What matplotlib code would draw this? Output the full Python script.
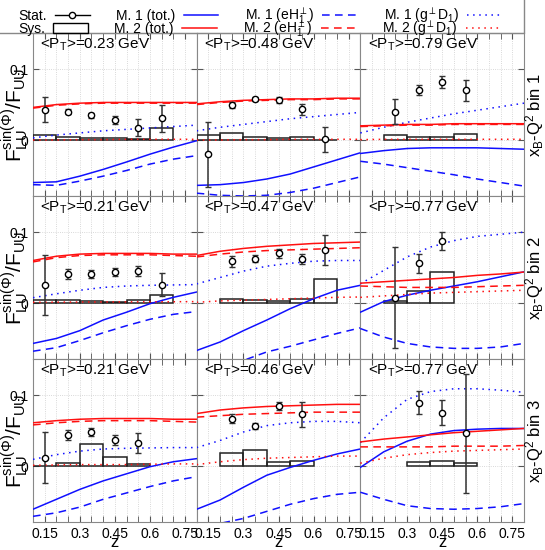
# Beam-spin asymmetry F_LU^sin(phi)/F_UU vs z, 3 x_B-Q^2 bins by 3 <P_T> bins
import matplotlib
matplotlib.use("Agg")
import matplotlib.pyplot as plt
from matplotlib.lines import Line2D
from matplotlib.patches import Rectangle
from matplotlib.ticker import MultipleLocator

plt.rcParams['font.family'] = ['Liberation Sans', 'DejaVu Sans']
plt.rcParams['mathtext.fontset'] = 'custom'
plt.rcParams['mathtext.rm'] = 'Liberation Sans'
plt.rcParams['mathtext.it'] = 'Liberation Sans'
plt.rcParams['mathtext.bf'] = 'Liberation Sans:bold'
plt.rcParams['mathtext.fallback'] = 'stixsans'

# ---- data (rows = x_B-Q^2 bin, cols = <P_T> bin) ----
pt_labels = [["0.23", "0.48", "0.79"],
             ["0.21", "0.47", "0.77"],
             ["0.21", "0.46", "0.77"]]

z_ticks = [0.15, 0.3, 0.45, 0.6, 0.75]
z_tick_labels = ["0.15", "0.3", "0.45", "0.6", "0.75"]

# measured points
stat_z = [[[0.15, 0.25, 0.35, 0.45, 0.55, 0.65], [0.15, 0.25, 0.35, 0.45, 0.55, 0.65], [0.25, 0.35, 0.45, 0.55]],
          [[0.15, 0.25, 0.35, 0.45, 0.55, 0.65], [0.25, 0.35, 0.45, 0.55, 0.65], [0.25, 0.35, 0.45]],
          [[0.15, 0.25, 0.35, 0.45, 0.55], [0.25, 0.35, 0.45, 0.55], [0.35, 0.45, 0.55]]]
stat_y = [[[0.043, 0.040, 0.035, 0.028, 0.0175, 0.031], [-0.020, 0.0495, 0.0575, 0.056, 0.0435, 0.001], [0.040, 0.070, 0.082, 0.070]],
          [[0.0255, 0.041, 0.041, 0.0437, 0.0446, 0.026], [0.0587, 0.0624, 0.070, 0.0615, 0.075], [0.0075, 0.056, 0.087]],
          [[0.012, 0.0434, 0.048, 0.0368, 0.033], [0.067, 0.0566, 0.085, 0.073], [0.0896, 0.0755, 0.046]]]
stat_err = [[[0.018, 0.0035, 0.0035, 0.006, 0.012, 0.019], [0.046, 0.004, 0.003, 0.004, 0.008, 0.0175], [0.0175, 0.007, 0.008, 0.015]],
            [[0.042, 0.007, 0.005, 0.006, 0.007, 0.016], [0.008, 0.005, 0.006, 0.007, 0.021], [0.0715, 0.013, 0.0125]],
            [[0.0365, 0.007, 0.006, 0.007, 0.014], [0.006, 0.004, 0.006, 0.018], [0.016, 0.018, 0.084]]]
sys_h = [[[0.007, 0.0047, 0.0033, 0.0024, 0.002, 0.0165], [0.0075, 0.010, 0.0038, 0.003, 0.0047, 0.0005], [0.0075, 0.0038, 0.0047, 0.0085]],
         [[0.0038, 0.0047, 0.0028, 0.0014, 0.0047, 0.0117], [0.006, 0.0047, 0.0028, 0.006, 0.034], [0.003, 0.017, 0.0437]],
         [[0.0003, 0.0047, 0.0307, 0.0127, 0.0033], [0.018, 0.022, 0.0057, 0.007], [0.006, 0.0066, 0.0047]]]

# model curves, read at z = 0.1 ... 0.8
z_curve = [0.1, 0.2, 0.3, 0.4, 0.5, 0.6, 0.7, 0.8]

m1_tot = [[[-0.060, -0.059, -0.051, -0.0415, -0.031, -0.020, -0.010, -0.001],
           [-0.064, -0.063, -0.060, -0.055, -0.048, -0.038, -0.028, -0.018],
           [-0.019, -0.015, -0.012, -0.011, -0.011, -0.011, -0.012, -0.013]],
          [[-0.057, -0.050, -0.039, -0.024, -0.013, -0.001, 0.008, 0.0155],
           [-0.067, -0.055, -0.039, -0.024, -0.008, 0.006, 0.018, 0.025],
           [-0.013, 0.002, 0.011, 0.018, 0.024, 0.030, 0.037, 0.044]],
          [[-0.061, -0.047, -0.033, -0.021, -0.011, -0.001, 0.006, 0.0104],
           [-0.061, -0.048, -0.030, -0.013, -0.002, 0.008, 0.017, 0.024],
           [-0.002, 0.020, 0.035, 0.045, 0.050, 0.052, 0.053, 0.053]]]
m1_eh = [[[-0.063, -0.064, -0.058, -0.051, -0.043, -0.034, -0.027, -0.022],
          [-0.075, -0.078, -0.079, -0.078, -0.074, -0.068, -0.060, -0.052],
          [-0.030, -0.034, -0.039, -0.044, -0.049, -0.055, -0.060, -0.065]],
         [[-0.068, -0.063, -0.053, -0.042, -0.032, -0.023, -0.016, -0.012],
          [-0.100, -0.090, -0.081, -0.069, -0.061, -0.052, -0.043, -0.035],
          [-0.036, -0.048, -0.057, -0.062, -0.064, -0.064, -0.062, -0.057]],
         [[-0.071, -0.066, -0.058, -0.047, -0.038, -0.029, -0.021, -0.015],
          [-0.085, -0.081, -0.074, -0.064, -0.054, -0.046, -0.040, -0.037],
          [-0.037, -0.047, -0.056, -0.060, -0.061, -0.060, -0.0575, -0.053]]]
m1_g = [[[0.003, 0.007, 0.010, 0.013, 0.015, 0.017, 0.019, 0.021],
         [0.013, 0.018, 0.022, 0.026, 0.030, 0.033, 0.036, 0.039],
         [0.010, 0.018, 0.025, 0.031, 0.037, 0.042, 0.047, 0.052]],
        [[0.0075, 0.013, 0.018, 0.022, 0.024, 0.025, 0.0255, 0.026],
         [0.027, 0.036, 0.045, 0.052, 0.056, 0.059, 0.060, 0.060],
         [0.027, 0.046, 0.065, 0.079, 0.088, 0.094, 0.097, 0.100]],
        [[0.0094, 0.016, 0.021, 0.024, 0.025, 0.0255, 0.026, 0.026],
         [0.026, 0.036, 0.048, 0.057, 0.061, 0.063, 0.063, 0.061],
         [0.033, 0.068, 0.094, 0.105, 0.109, 0.109, 0.107, 0.104]]]
m2_tot = [[[0.046, 0.050, 0.052, 0.053, 0.053, 0.053, 0.053, 0.053],
           [0.051, 0.054, 0.056, 0.057, 0.058, 0.058, 0.059, 0.059],
           [0.020, 0.021, 0.022, 0.022, 0.023, 0.023, 0.023, 0.023]],
          [[0.060, 0.066, 0.069, 0.070, 0.070, 0.070, 0.069, 0.069],
           [0.067, 0.073, 0.077, 0.080, 0.082, 0.084, 0.085, 0.086],
           [0.028, 0.030, 0.032, 0.034, 0.036, 0.039, 0.041, 0.0437]],
          [[0.061, 0.064, 0.066, 0.067, 0.067, 0.067, 0.066, 0.066],
           [0.074, 0.079, 0.082, 0.084, 0.085, 0.086, 0.087, 0.087],
           [0.034, 0.038, 0.041, 0.044, 0.047, 0.049, 0.051, 0.053]]]
m2_eh = [[[0.045, 0.049, 0.051, 0.052, 0.052, 0.052, 0.052, 0.052],
          [0.050, 0.053, 0.055, 0.056, 0.057, 0.057, 0.058, 0.058],
          [0.019, 0.020, 0.021, 0.021, 0.022, 0.022, 0.022, 0.022]],
         [[0.058, 0.064, 0.067, 0.068, 0.068, 0.068, 0.067, 0.066],
          [0.065, 0.069, 0.072, 0.074, 0.075, 0.076, 0.077, 0.078],
          [0.024, 0.023, 0.022, 0.022, 0.022, 0.023, 0.024, 0.025]],
         [[0.058, 0.061, 0.063, 0.064, 0.064, 0.064, 0.063, 0.062],
          [0.069, 0.071, 0.073, 0.074, 0.075, 0.076, 0.076, 0.076],
          [0.027, 0.027, 0.027, 0.027, 0.028, 0.028, 0.028, 0.029]]]
m2_g = [[[0.0, 0.0, 0.0005, 0.0005, 0.001, 0.001, 0.001, 0.001],
         [0.0, 0.0, 0.0005, 0.0005, 0.001, 0.001, 0.001, 0.001],
         [0.0005, 0.001, 0.001, 0.001, 0.001, 0.001, 0.001, 0.001]],
        [[0.001, 0.0012, 0.0014, 0.0015, 0.0016, 0.0017, 0.0018, 0.002],
         [0.001, 0.003, 0.004, 0.005, 0.006, 0.007, 0.008, 0.0085],
         [0.008, 0.010, 0.012, 0.014, 0.015, 0.016, 0.017, 0.018]],
        [[0.001, 0.0015, 0.002, 0.002, 0.002, 0.0025, 0.003, 0.003],
         [0.002, 0.006, 0.009, 0.011, 0.012, 0.013, 0.014, 0.014],
         [0.004, 0.011, 0.016, 0.019, 0.021, 0.022, 0.023, 0.024]]]

blue = "#1010ff"
red = "#ff1010"
dashed = (0, (5, 3.5))
dotted = (0, (1, 3))

fig, axes = plt.subplots(3, 3, figsize=(5.45, 5.5), dpi=100, sharex=True, sharey=True)
fig.subplots_adjust(left=33/545, right=524/545, top=1-33/550, bottom=1-522/550,
                    wspace=0, hspace=0)

for r in range(3):
    for c in range(3):
        ax = axes[r][c]
        ax.bar(stat_z[r][c], sys_h[r][c], width=0.1, fill=False,
               edgecolor="#222222", lw=1.1, zorder=3)
        ax.plot(z_curve, m1_tot[r][c], color=blue, lw=1.1, zorder=4)
        ax.plot(z_curve, m1_eh[r][c], color=blue, lw=1.1, ls=dashed, zorder=4)
        ax.plot(z_curve, m1_g[r][c], color=blue, lw=1.1, ls=dotted, zorder=4)
        ax.plot(z_curve, m2_eh[r][c], color=red, lw=1.1, ls=dashed, zorder=4)
        ax.plot(z_curve, m2_tot[r][c], color=red, lw=1.1, zorder=4)
        ax.plot(z_curve, m2_g[r][c], color=red, lw=1.1, ls=dotted, zorder=4)
        ax.errorbar(stat_z[r][c], stat_y[r][c], yerr=stat_err[r][c], fmt='o',
                    ms=4.5, mfc='white', mec='black', mew=1.0, color='black',
                    ecolor='#333333', elinewidth=1.1, capsize=2.5, capthick=1.1,
                    zorder=5)

        ax.text(0.045, 0.975, r"<P$_\mathrm{T}$>=" + pt_labels[r][c] + " GeV",
                transform=ax.transAxes, ha='left', va='top', fontsize=11)

        ax.set_xlim(0.1, 0.8)
        ax.set_ylim(-0.079, 0.151)
        ax.set_xticks(z_ticks)
        ax.set_xticklabels(z_tick_labels)
        ax.xaxis.set_minor_locator(MultipleLocator(0.05))
        ax.set_yticks([0, 0.1])
        ax.set_yticklabels(["0", "0.1"])
        ax.tick_params(which='both', direction='in', top=True, right=True,
                       length=4, labelsize=10, color='#555555')
        ax.grid(True, which='both', axis='x', ls=':', color='#cccccc', lw=0.6)
        ax.grid(True, which='major', axis='y', ls=':', color='#cccccc', lw=0.6)
        for sp in ax.spines.values():
            sp.set_color('#888888')

    axes[r][0].set_ylabel(r"F$_\mathrm{LU}^\mathrm{sin(\Phi)}$/F$_\mathrm{UU}$", fontsize=15)
    axes[r][0].yaxis.set_label_coords(-0.02, 0.5)
    axes[r][2].text(1.063, 0.5, r"x$_\mathrm{B}$-Q$^2$ bin " + str(r + 1),
                    transform=axes[r][2].transAxes, rotation=90,
                    ha='center', va='center', fontsize=12)

for c in range(3):
    axes[2][c].set_xlabel("z", fontsize=12, labelpad=-4)

# legend at the top: one legend per row so the two rows line up
fig.patches.append(Rectangle((-0.01, 1 - 33/550), 524/545 + 0.01, 0.1, fill=False,
                             edgecolor='#888888', lw=1, transform=fig.transFigure,
                             figure=fig))
row1_handles = [
    Line2D([], [], color='k', marker='o', mfc='w', ms=4.5, lw=1),
    Line2D([], [], color=blue, lw=1.1),
    Line2D([], [], color=blue, lw=1.1, ls=dashed),
    Line2D([], [], color=blue, lw=1.1, ls=dotted),
]
row1_labels = ["Stat.", "M. 1 (tot.)", r"M. 1 (eH$_1^{\perp}$)", r"M. 1 (g$^{\perp}$D$_1$)"]
row2_handles = [
    Rectangle((0, 0), 1, 1, fill=False, edgecolor='k', lw=1),
    Line2D([], [], color=red, lw=1.1),
    Line2D([], [], color=red, lw=1.1, ls=dashed),
    Line2D([], [], color=red, lw=1.1, ls=dotted),
]
row2_labels = ["Sys.", "M. 2 (tot.)", r"M. 2 (eH$_1^{\perp}$)", r"M. 2 (g$^{\perp}$D$_1$)"]

leg_kw = dict(loc='center left', ncol=4, markerfirst=False, fontsize=10,
              handlelength=2.5, columnspacing=1.9, handletextpad=0.6,
              borderaxespad=0.0, borderpad=0.0, frameon=False)
leg1 = fig.legend(row1_handles, row1_labels, bbox_to_anchor=(18/545, 1 - 16/550), **leg_kw)
leg2 = fig.legend(row2_handles, row2_labels, bbox_to_anchor=(18/545, 1 - 28.5/550), **leg_kw)

fig.savefig("out.png", dpi=100)
